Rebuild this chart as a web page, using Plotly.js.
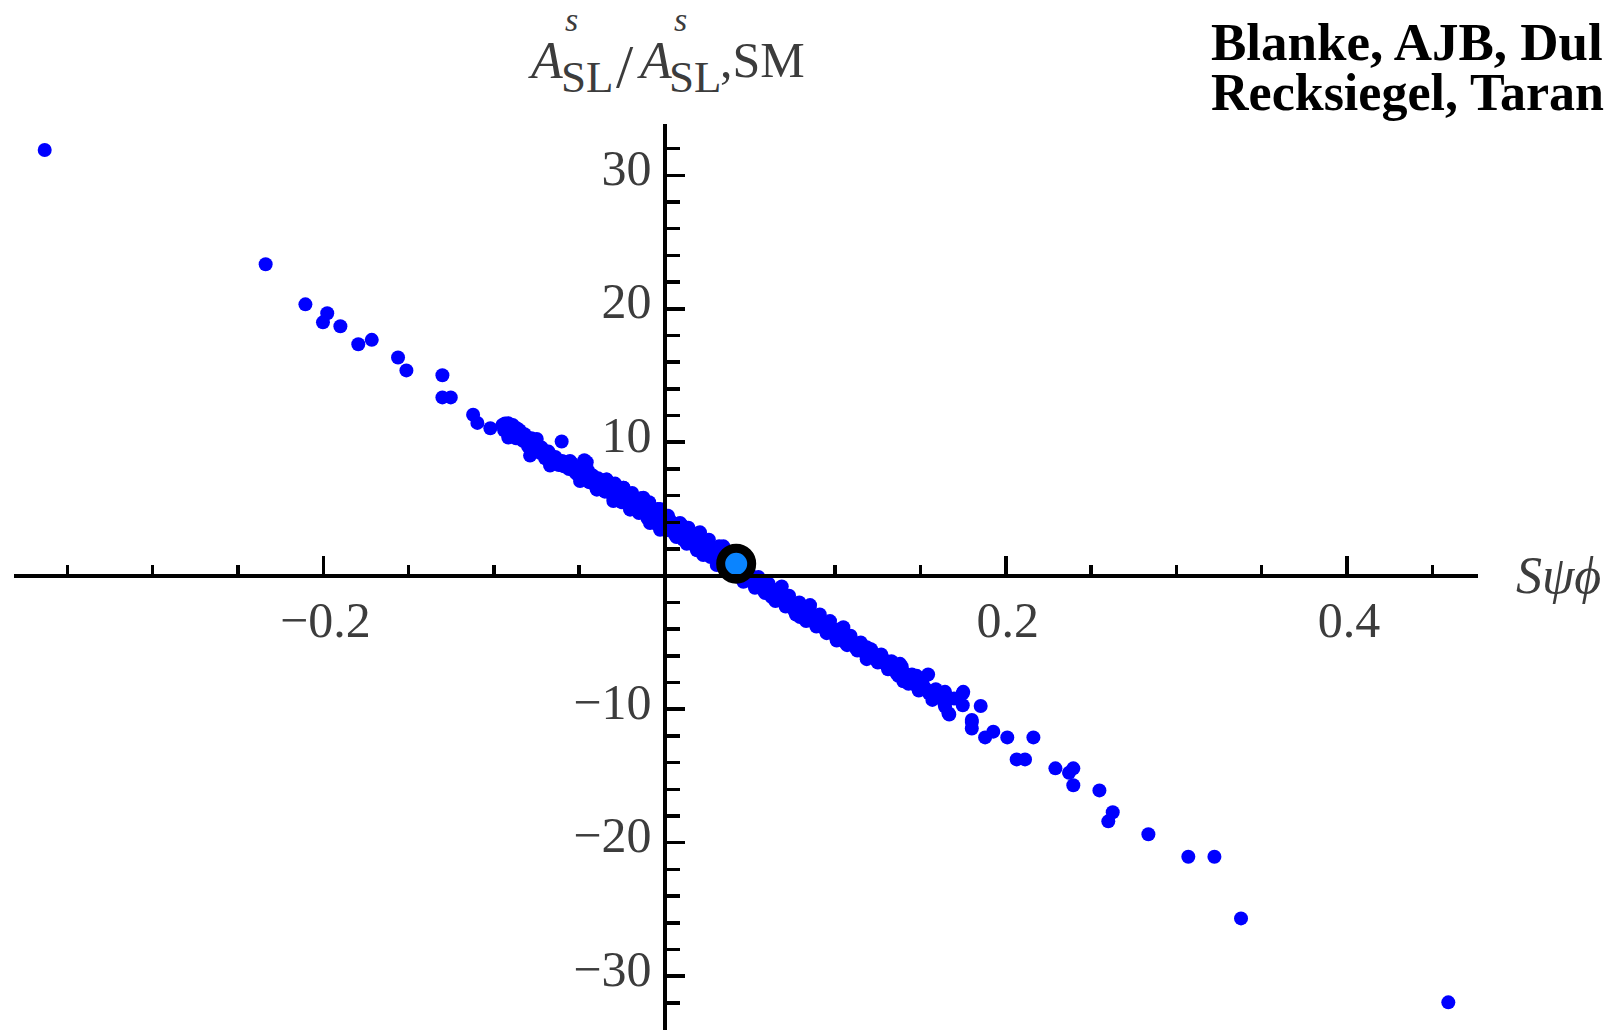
<!DOCTYPE html>
<html>
<head>
<meta charset="utf-8">
<script src="https://cdn.plot.ly/plotly-3.0.1.min.js"></script>
<style>html,body{margin:0;padding:0;background:#fff;overflow:hidden}</style>
</head>
<body>
<div id="chart" style="width:1608px;height:1030px"></div>
<script>
// ---- data ----
// sparse points and the first pass over the dense band
const scanX = [
  -0.3633, -0.2338, -0.2105, -0.1977, -0.2002, -0.1900, -0.1795, -0.1716, -0.1562, -0.1513,
  -0.1302, -0.1302, -0.1253, -0.1122, -0.1097, -0.1021, -0.0916, -0.0866, -0.0906, -0.0828,
  -0.0603, -0.0470,
  -0.095, -0.093, -0.090, -0.089, -0.087, -0.085, -0.083, -0.082, -0.080, -0.078,
  -0.077, -0.075, -0.073, -0.072, -0.070, -0.068, -0.066, -0.064, -0.062, -0.060,
  -0.058, -0.056, -0.054, -0.052, -0.050, -0.048, -0.047, -0.045, -0.044, -0.042,
  -0.040, -0.039, -0.037, -0.035, -0.034, -0.032, -0.030, -0.029, -0.027, -0.025,
  -0.024, -0.022, -0.020, -0.019, -0.017, -0.015, -0.014, -0.012, -0.010, -0.009,
  -0.007, -0.005, -0.004, -0.002, 0.000,
  0.002, 0.004, 0.006, 0.008, 0.010, 0.012, 0.014, 0.016, 0.018, 0.020,
  0.022, 0.024, 0.026, 0.028, 0.030, 0.032, 0.034, 0.036, 0.038, 0.040, 0.042,
  0.044, 0.046, 0.047, 0.049, 0.051, 0.053, 0.055, 0.057, 0.059, 0.061,
  0.063, 0.065, 0.067, 0.069, 0.071, 0.073, 0.075, 0.077, 0.079, 0.081,
  0.083, 0.085, 0.087, 0.089, 0.091, 0.093, 0.095, 0.097, 0.099, 0.101,
  0.103, 0.105, 0.107, 0.109, 0.111, 0.113, 0.115, 0.117, 0.119, 0.121,
  0.123, 0.125, 0.127, 0.129, 0.131, 0.133, 0.135, 0.137, 0.139, 0.141,
  0.143, 0.145, 0.147, 0.149, 0.151, 0.153,
  0.155, 0.157, 0.159, 0.161, 0.1545, 0.1644, 0.1644, 0.1641, 0.1669, 0.1664,
  0.1697, 0.1748, 0.1751, 0.1748, 0.1801, 0.1801, 0.1801, 0.1853, 0.1879, 0.1927,
  0.2009, 0.2162, 0.2064, 0.2113, 0.2291, 0.2396, 0.2371, 0.2396, 0.2549, 0.2627,
  0.2601, 0.2836, 0.3070, 0.3223, 0.3379, 0.4594
];
const scanY = [
  31.89, 23.33, 20.33, 19.66, 18.98, 18.69, 17.34, 17.67, 16.35, 15.38,
  15.02, 13.36, 13.36, 12.06, 11.45, 11.05, 11.43, 11.05, 10.80, 10.43,
  10.05, 8.65,
  11.3, 11.0, 10.6, 11.3, 10.3, 10.9, 10.1, 10.6, 9.7, 10.3,
  9.4, 9.9, 9.2, 9.6, 8.8, 9.3, 8.5, 8.9, 8.3, 8.6,
  8.5, 8.0, 8.4, 7.7, 8.1, 7.2, 7.8, 7.9, 7.0, 7.5,
  6.6, 7.3, 6.9, 6.3, 7.2, 6.6, 5.8, 6.9, 6.2, 5.5,
  6.6, 5.9, 5.0, 6.2, 5.5, 4.7, 5.8, 5.1, 4.3, 5.5,
  4.7, 3.9, 5.0, 4.3, 3.5,
  4.5, 3.8, 3.1, 3.9, 3.4, 2.7, 3.6, 3.0, 2.2, 3.2,
  2.5, 1.7, 2.7, 2.0, 1.3, 2.2, 1.5, 0.8, 1.8, 1.0, 0.3,
  1.0, 0.2, -0.4, 0.4, -0.3, -0.9, -0.1, -0.8, -1.3, -0.6,
  -1.3, -1.9, -1.0, -1.7, -2.3, -1.5, -2.2, -2.9, -2.0, -2.7,
  -3.4, -2.4, -3.1, -3.8, -2.9, -3.6, -4.3, -3.4, -4.1, -4.8,
  -4.0, -4.7, -5.2, -4.5, -5.1, -5.6, -5.0, -5.6, -6.1, -5.5,
  -6.0, -6.5, -5.9, -6.5, -7.0, -6.4, -7.0, -7.5, -6.8, -7.5,
  -8.1, -7.4, -8.0, -8.6, -7.9, -8.5,
  -8.8, -9.3, -8.5, -9.1, -7.4, -8.7, -9.8, -9.6, -10.4, -10.3,
  -9.2, -8.8, -8.7, -9.7, -10.8, -11.44, -10.95, -9.76, -12.11, -11.68,
  -12.11, -12.11, -13.76, -13.76, -14.43, -14.43, -14.76, -15.70, -16.08, -17.72,
  -18.40, -19.37, -21.05, -21.05, -25.67, -31.96
];
// second pass over the dense band (points between the ones above)
const bandX = [
  -0.094, -0.091, -0.088, -0.086, -0.084, -0.081, -0.079, -0.076, -0.074, -0.071,
  -0.069, -0.067, -0.065, -0.063, -0.061, -0.059, -0.057, -0.055, -0.053, -0.051,
  -0.049, -0.046, -0.043, -0.041, -0.038, -0.036, -0.033, -0.031, -0.028, -0.026,
  -0.023, -0.021, -0.018, -0.016, -0.013, -0.011, -0.008, -0.006, -0.003, -0.001,
  0.001, 0.003, 0.005, 0.007, 0.009, 0.011, 0.013, 0.015, 0.017, 0.019,
  0.021, 0.023, 0.025, 0.027, 0.029, 0.031, 0.033, 0.035, 0.037, 0.039, 0.041,
  0.043, 0.045, 0.048, 0.050, 0.052, 0.054, 0.056, 0.058, 0.060, 0.062,
  0.064, 0.066, 0.068, 0.070, 0.072, 0.074, 0.076, 0.078, 0.080, 0.082,
  0.084, 0.086, 0.088, 0.090, 0.092, 0.094, 0.096, 0.098, 0.100, 0.102,
  0.104, 0.106, 0.108, 0.110, 0.112, 0.114, 0.116, 0.118, 0.120, 0.122,
  0.124, 0.126, 0.128, 0.130, 0.132, 0.134, 0.136, 0.138, 0.140, 0.142,
  0.144, 0.146, 0.148, 0.150, 0.152
];
const bandY = [
  10.9, 11.1, 10.7, 10.5, 10.6, 10.2, 9.9, 9.8, 9.5, 9.2,
  9.0, 8.9, 8.7, 8.6, 8.4, 8.2, 8.3, 8.1, 7.9, 7.6,
  7.5, 7.4, 7.2, 7.0, 6.6, 6.6, 6.4, 6.2, 5.7, 5.9,
  6.0, 5.4, 5.2, 5.3, 4.8, 4.9, 5.0, 4.2, 3.7, 4.0,
  3.4, 4.2, 3.5, 2.9, 3.0, 3.7, 2.4, 3.3, 2.6, 1.9,
  2.8, 2.1, 2.4, 1.4, 1.7, 1.9, 1.0, 1.2, 1.4, 0.6, 0.7,
  0.4, 0.6, 0.0, 0.1, -0.5, -0.2, -0.6, -1.1, -0.8, -1.0,
  -1.6, -1.3, -1.5, -2.0, -1.7, -2.0, -2.6, -2.3, -2.4, -3.0,
  -2.8, -2.9, -3.5, -3.2, -3.4, -4.0, -3.7, -3.9, -4.5, -4.3,
  -4.4, -5.0, -4.8, -4.9, -5.4, -5.2, -5.3, -5.9, -5.7, -5.8,
  -6.3, -6.1, -6.2, -6.7, -6.6, -6.7, -7.3, -7.1, -7.2, -7.8,
  -7.6, -7.7, -8.3, -8.1, -8.3
];
// points on the upper and lower edges of the dense band
const edgeX = [
  -0.0935, -0.0749, -0.0554, -0.0456, -0.0339, -0.0241, -0.0124, -0.0026, 0.0091, 0.0208, 0.0345,
  0.0687, 0.0853, 0.1048, 0.1185, 0.1380, 0.1478,
  -0.0916, -0.0788, -0.0671, -0.0554, -0.0495, -0.0397, -0.0300, -0.0202, -0.0085, -0.0026,
  0.0110, 0.0227, 0.0306, 0.0462, 0.0628, 0.0794, 0.1009, 0.1185, 0.1400
];
const edgeY = [
  11.4, 10.25, 8.6, 8.5, 7.2, 6.6, 5.85, 5.0, 3.95, 3.25, 2.2,
  -0.8, -2.2, -3.85, -5.35, -6.6, -7.5,
  10.35, 9.0, 8.25, 8.1, 7.1, 6.45, 5.6, 4.95, 3.95, 3.45,
  2.7, 1.55, 0.8, -0.45, -1.6, -3.1, -4.85, -6.25, -7.9
];
// Standard Model point
const smX = [0.042];
const smY = [0.9];

const xTickVals = [-0.2, 0.2, 0.4];
const xTickText = ['\u22120.2', '0.2', '0.4'];
const yTickVals = [-30, -20, -10, 10, 20, 30];
const yTickText = ['\u221230', '\u221220', '\u221210', '10', '20', '30'];
const xRange = [-0.3813, 0.4768];
const yRange = [-34.03, 33.84];

// ---- layout geometry ----
const W = 1608, H = 1030, mL = 14, mR = 130, mT = 124, mB = 0;
const pw = W - mL - mR, ph = H - mT - mB;
function px(x) { return (x - mL) / pw; }
function py(y) { return (H - mB - y) / ph; }

const serif = 'Liberation Serif, Times New Roman, serif';
const grey = '#3c3c3c';
const dot = {color: '#0000ff', size: 14, line: {width: 0}};

const traces = [
  {type: 'scatter', mode: 'markers', x: scanX, y: scanY, marker: dot, hoverinfo: 'skip', cliponaxis: false},
  {type: 'scatter', mode: 'markers', x: bandX, y: bandY, marker: dot, hoverinfo: 'skip', cliponaxis: false},
  {type: 'scatter', mode: 'markers', x: edgeX, y: edgeY, marker: dot, hoverinfo: 'skip', cliponaxis: false},
  {
    type: 'scatter', mode: 'markers', x: smX, y: smY,
    marker: {color: '#0a84ff', size: 31, line: {color: '#000000', width: 9}},
    hoverinfo: 'skip', cliponaxis: false
  }
];

function ann(text, x, y, size, opts) {
  return Object.assign({
    text: text, xref: 'paper', yref: 'paper', x: px(x), y: py(y),
    xanchor: 'left', yanchor: 'middle', showarrow: false,
    font: {family: serif, size: size, color: grey}, borderpad: 0
  }, opts || {});
}

const annotations = [
  ann('<i>A</i>', 527, 60, 52),
  ann('SL', 560, 77, 45),
  ann('/', 615, 66, 62),
  ann('<i>A</i>', 636, 60, 52),
  ann('SL', 668, 77, 45),
  ann(',SM', 719, 60, 50),
  ann('<i>s</i>', 571, 19.5, 34, {xanchor: 'center'}),
  ann('<i>s</i>', 680, 19.5, 34, {xanchor: 'center'}),
  ann('<i>S\u03c8\u03d5</i>', 1515, 575, 52),
  ann('<b>Blanke, AJB, Dul</b>', 1210, 42, 53, {font: {family: serif, size: 53, color: '#000000'}}),
  ann('<b>Recksiegel, Taran</b>', 1210, 93, 52, {font: {family: serif, size: 52, color: '#000000'}})
];

const layout = {
  width: W, height: H,
  margin: {l: mL, r: mR, t: mT, b: mB, pad: 0},
  paper_bgcolor: '#ffffff', plot_bgcolor: '#ffffff',
  showlegend: false, hovermode: false,
  xaxis: {
    range: xRange, anchor: 'free',
    position: (0 - yRange[0]) / (yRange[1] - yRange[0]),
    showgrid: false, zeroline: false,
    showline: true, linecolor: '#000000', linewidth: 4.5,
    ticks: 'inside', ticklen: 18, tickwidth: 3.5, tickcolor: '#000000',
    tickmode: 'array', tickvals: xTickVals, ticktext: xTickText,
    tickfont: {family: serif, size: 50, color: grey},
    ticklabelstandoff: -1, ticklabelshift: 2,
    minor: {tickmode: 'linear', tick0: 0, dtick: 0.05, ticks: 'inside', ticklen: 9, tickwidth: 3.5, tickcolor: '#000000', showgrid: false},
    layer: 'above traces'
  },
  yaxis: {
    range: yRange, anchor: 'free',
    position: (0 - xRange[0]) / (xRange[1] - xRange[0]),
    showgrid: false, zeroline: false,
    showline: true, linecolor: '#000000', linewidth: 4.5,
    ticks: 'inside', ticklen: 18, tickwidth: 3.5, tickcolor: '#000000',
    tickmode: 'array', tickvals: yTickVals, ticktext: yTickText,
    tickfont: {family: serif, size: 50, color: grey},
    ticklabelstandoff: 1, ticklabelshift: -8,
    minor: {tickmode: 'linear', tick0: 0, dtick: 2, ticks: 'inside', ticklen: 13, tickwidth: 3.5, tickcolor: '#000000', showgrid: false},
    layer: 'above traces'
  },
  annotations: annotations
};

Plotly.newPlot('chart', traces, layout, {displayModeBar: false, staticPlot: true});
</script>
</body>
</html>
